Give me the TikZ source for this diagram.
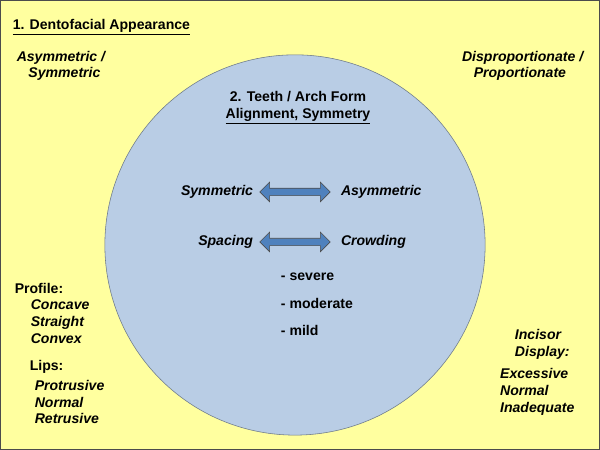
\documentclass[tikz,border=0pt]{standalone}
\usepackage{fontspec}
\setmainfont{Liberation Sans}
\usetikzlibrary{shapes.arrows}
\definecolor{bgyellow}{HTML}{FFFF9F}
\definecolor{archblue}{HTML}{B9CDE5}
\definecolor{arrowblue}{HTML}{4F81BD}
\begin{document}
\begin{tikzpicture}[x=0.025cm,y=-0.025cm,
  every node/.style={font=\bfseries\fontsize{10}{12}\selectfont},
  lbl/.style={font=\bfseries\itshape\fontsize{10}{12}\selectfont,align=left},
  dblarrow/.style={double arrow,draw=black!70,fill=arrowblue,minimum width=14pt,
    double arrow head extend=2pt,inner sep=1pt,minimum height=50pt}]
  % background and arch circle
  \draw[black!70,fill=bgyellow] (0.5,0.5) rectangle (599.5,449.5);
  \draw[thin,draw=archblue!60!black,fill=archblue] (295,245) circle (190);

  \node (TITL) at (8,27) [anchor=west] {\underline{1. Dentofacial Appearance}};
  \node (ASYM) at (12,66) [anchor=west,lbl] {Asymmetric /\\\ \ \ Symmetric};
  \node (DISP) at (588,66) [anchor=east,lbl] {Disproportionate /\\\ \ \ Proportionate};
  \node (TEETH) at (298,108) [align=center] {2. Teeth / Arch Form\\\underline{Alignment, Symmetry}};

  \node (SYMM) at (258,192) [anchor=east,lbl] {Symmetric};
  \node (ASYMM) at (336,192) [anchor=west,lbl] {Asymmetric};
  \node (ARRA) at (295,192) [dblarrow] {};
  \node (SPAC) at (258,242) [anchor=east,lbl] {Spacing};
  \node (CROW) at (336,242) [anchor=west,lbl] {Crowding};
  \node (ARRB) at (295,242) [dblarrow] {};

  \node (SEV) at (276,277) [anchor=west] {- severe};
  \node (MOD) at (276,303) [anchor=west] {- moderate};
  \node (MILD) at (276,330) [anchor=west] {- mild};

  \node (PROF) at (10,288) [anchor=west] {Profile:};
  \node (PROFL) at (26,322) [anchor=west,lbl] {Concave\\Straight\\Convex};
  \node (LIPS) at (25,367) [anchor=west] {Lips:};
  \node (LIPSL) at (30,402) [anchor=west,lbl] {Protrusive\\Normal\\Retrusive};
  \node (INC) at (502,344) [anchor=west,lbl] {\ \ Incisor\\\ \ Display:};
  \node (INCL) at (495,392) [anchor=west,lbl] {Excessive\\Normal\\Inadequate};
\end{tikzpicture}
\end{document}
